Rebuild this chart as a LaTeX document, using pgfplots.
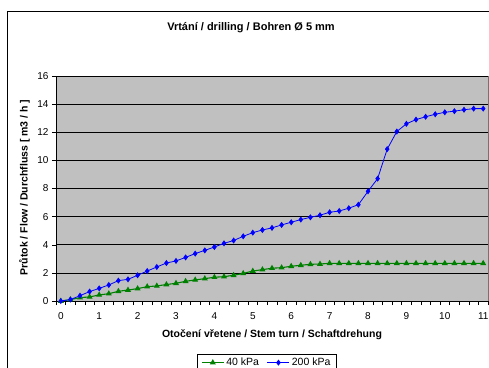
\documentclass[border=0pt]{standalone}
\usepackage{pgfplots}
\pgfplotsset{compat=1.18}
\usepackage{fontspec}
\setmainfont{Liberation Sans}
\definecolor{plotgray}{HTML}{C0C0C0}
\definecolor{exgreen}{HTML}{008000}
\definecolor{exblue}{HTML}{0000FF}
\begin{document}
\begin{tikzpicture}[x=1pt,y=1pt]
\path[use as bounding box] (0,0) rectangle (489,367);
\draw[black, line width=0.9pt] (7,-20) rectangle (520,356);
\node[font=\bfseries\fontsize{11}{13}\selectfont] at (251,339) {Vrtání / drilling / Bohren Ø 5 mm};
\node[font=\bfseries\fontsize{10.5}{12}\selectfont, rotate=90] at (24.5,179.5) {Průtok / Flow / Durchfluss [ m3 / h ]};
\node[font=\bfseries\fontsize{10.5}{12}\selectfont] at (272,32) {Otočení vřetene / Stem turn / Schaftdrehung};
\begin{axis}[
  at={(56pt,66pt)}, anchor=south west,
  scale only axis, width=432pt, height=225pt,
  xmin=-0.125, xmax=11.125, ymin=0, ymax=16,
  axis background/.style={fill=plotgray, draw=gray!90!black},
  axis x line*=bottom, axis y line*=left,
  x axis line style={-}, y axis line style={-},
  xtick={0,1,...,11},
  major x tick style={draw=none},
  minor xtick={-0.125,0.125,...,11.2},
  minor x tick style={black},
  ytick={0,2,...,16},
  tick align=outside,
  major tick length=4pt, minor tick length=4pt,
  tick style={black, line width=0.5pt},
  ymajorgrids, grid style={black, line width=0.6pt},
  tick label style={font=\fontsize{10}{12}\selectfont},
  /pgf/number format/assume math mode=true,
  xticklabel style={yshift=-4pt},
  legend columns=2,
  legend style={at={(0.488,-0.235)}, anchor=north, draw=black, fill=white,
    font=\fontsize{10.5}{12}\selectfont, inner xsep=4pt, inner ysep=2pt,
    /tikz/every even column/.append style={column sep=6pt}},
  legend image code/.code={
    \draw[mark repeat=2,mark phase=2] plot coordinates {(0pt,0pt) (11pt,0pt) (22pt,0pt)};},
  clip=false,
]
\addplot[exgreen, line width=1.1pt, mark=triangle*, mark size=2.4pt, mark options={solid, fill=exgreen}] table {
x y
0 0
0.25 0.1
0.5 0.24
0.75 0.29
1 0.43
1.25 0.52
1.5 0.69
1.75 0.78
2 0.88
2.25 1.02
2.5 1.07
2.75 1.17
3 1.26
3.25 1.4
3.5 1.5
3.75 1.59
4 1.69
4.25 1.73
4.5 1.83
4.75 1.96
5 2.13
5.25 2.23
5.5 2.33
5.75 2.37
6 2.47
6.25 2.54
6.5 2.61
6.75 2.63
7 2.68
7.25 2.68
7.5 2.68
7.75 2.68
8 2.68
8.25 2.68
8.5 2.68
8.75 2.68
9 2.68
9.25 2.68
9.5 2.68
9.75 2.68
10 2.68
10.25 2.68
10.5 2.68
10.75 2.68
11 2.68
};
\addlegendentry{40 kPa}
\addplot[exblue, line width=0.8pt, mark=diamond*, mark size=2.4pt, mark options={solid, fill=exblue}] table {
x y
0 0
0.25 0.1
0.5 0.38
0.75 0.67
1 0.9
1.25 1.14
1.5 1.45
1.75 1.54
2 1.83
2.25 2.13
2.5 2.42
2.75 2.7
3 2.85
3.25 3.1
3.5 3.37
3.75 3.6
4 3.84
4.25 4.1
4.5 4.3
4.75 4.6
5 4.86
5.25 5.05
5.5 5.2
5.75 5.41
6 5.6
6.25 5.79
6.5 5.95
6.75 6.1
7 6.31
7.25 6.4
7.5 6.6
7.75 6.85
8 7.8
8.25 8.7
8.5 10.8
8.75 12.05
9 12.6
9.25 12.9
9.5 13.1
9.75 13.28
10 13.42
10.25 13.5
10.5 13.6
10.75 13.68
11 13.68
};
\addlegendentry{200 kPa}
\end{axis}
\end{tikzpicture}
\end{document}
